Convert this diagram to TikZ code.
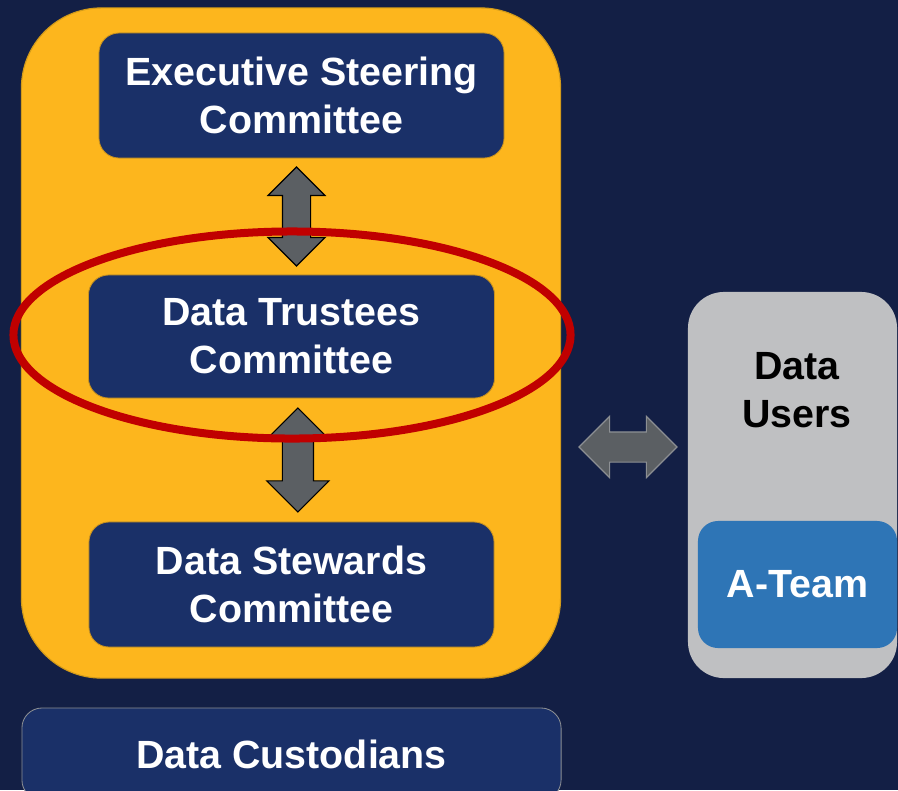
\documentclass[tikz,border=0pt]{standalone}
\usepackage{fontspec}
\setmainfont{Liberation Sans}
\usetikzlibrary{shapes.geometric, shapes.arrows, positioning, calc}
\definecolor{navybg}{HTML}{131F45}
\definecolor{boxblue}{HTML}{1A3068}
\definecolor{boxedge}{HTML}{C9921F}
\definecolor{gold}{HTML}{FDB61D}
\definecolor{goldedge}{HTML}{D29A1A}
\definecolor{usergray}{HTML}{BFC0C2}
\definecolor{teamblue}{HTML}{2E75B6}
\definecolor{focusred}{HTML}{C00000}
\definecolor{arrowgray}{HTML}{5B5F63}
\definecolor{arrowedge}{HTML}{8C8F93}

\begin{document}
\begin{tikzpicture}[x=0.025cm, y=-0.025cm,
  font=\bfseries\fontsize{28}{34}\selectfont,
  box/.style = {draw=boxedge, line width=0.6pt, fill=boxblue, text=white, rounded corners=0.5cm, align=center, inner sep=0pt},
  biarrow/.style = {double arrow, fill=arrowgray, inner xsep=0pt, double arrow head extend=0.36cm}]
  % background and frame
  \useasboundingbox (0,0) rectangle (898,790);
  \clip (0,0) rectangle (898,790);
  \fill[navybg] (0,0) rectangle (898,790);

  \node[draw=goldedge, line width=0.8pt, fill=gold, rounded corners=2cm, minimum width=13.475cm, minimum height=16.75cm] (council) at (291,343) {};

  \node[box, minimum width=10.125cm, minimum height=3.125cm] (exec) at (301.5,95.5) {Executive Steering\\Committee};
  \node[box, minimum width=10.15cm, minimum height=3.075cm] (trustees) at (291.5,336.5) {Data Trustees\\Committee};
  \node[box, minimum width=10.125cm, minimum height=3.125cm] (stewards) at (291.5,584.5) {Data Stewards\\Committee};
  \node[box, draw=arrowedge, minimum width=13.475cm, minimum height=2.3cm] (custodians) at (291.5,754) {Data Custodians};

  % data users
  \node[fill=usergray, rounded corners=0.9cm, minimum width=5.225cm, minimum height=9.65cm] (users) at (792.5,485) {};
  \node[align=center, text=black] (userslabel) at (797,390) {Data\\Users};
  \node[fill=teamblue, text=white, rounded corners=0.5cm, minimum width=4.975cm, minimum height=3.175cm] (ateam) at (797.5,584.5) {A-Team};

  % arrows
  \node[biarrow, draw=black, line width=0.8pt, rotate=90, minimum height=2.475cm, inner ysep=0.3375cm] (up1) at ($(exec.south)!0.5!(trustees.north)$) {};
  \node[biarrow, draw=black, line width=0.8pt, rotate=90, minimum height=2.6cm, inner ysep=0.375cm, double arrow head extend=0.39cm] (up2) at ([xshift=0.16cm]$(trustees.south)!0.5!(stewards.north)$) {};
  \node[biarrow, draw=arrowedge, line width=0.8pt, minimum height=2.45cm, inner ysep=0.3625cm, double arrow head extend=0.39cm] (side) at (628,447) {};

  % focus ring
  \node[ellipse, draw=focusred, line width=0.2cm, minimum width=13.925cm, minimum height=5.175cm] (focus) at (292,335) {};
\end{tikzpicture}
\end{document}
